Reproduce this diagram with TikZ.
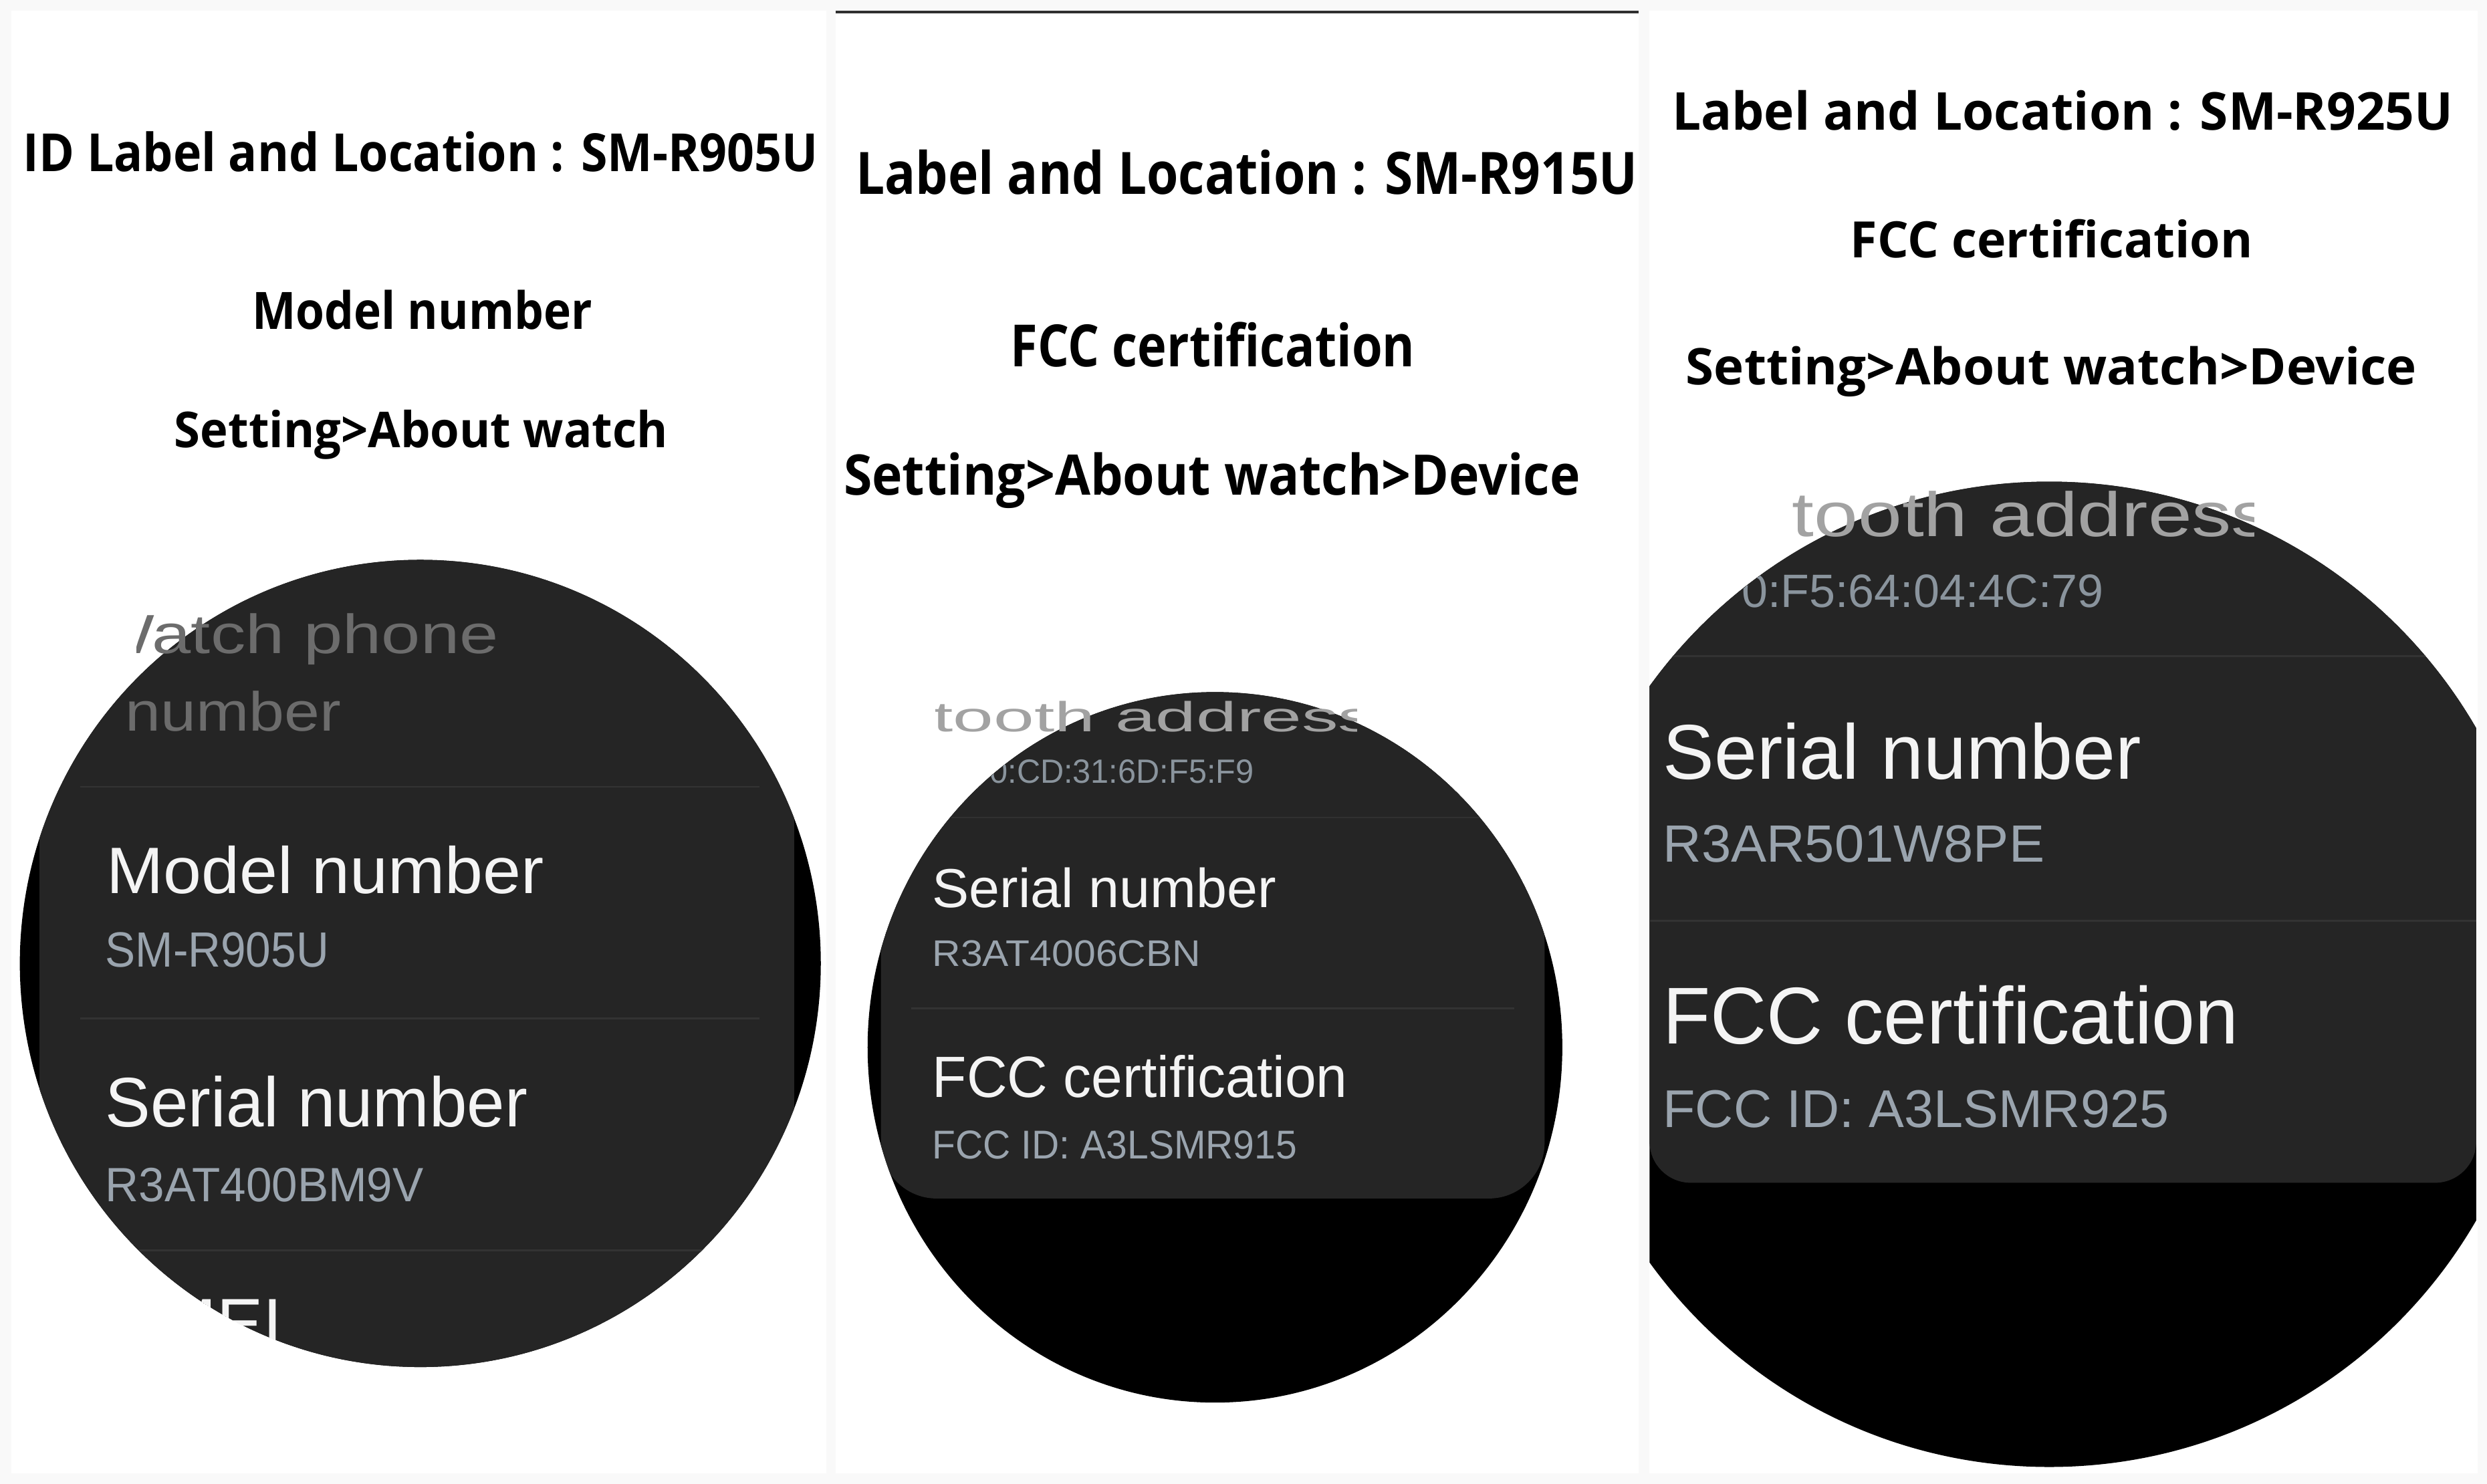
\documentclass[tikz,border=0pt]{standalone}
\usepackage{fontspec}
\usepackage{graphicx}
\newfontfamily\hdfont{Open Sans}
\newfontfamily\wfont{Liberation Sans}
\definecolor{pagebg}{HTML}{F9F9F9}
\definecolor{scrbg}{HTML}{252525}
\definecolor{sepc}{HTML}{333333}
\definecolor{wtitle}{HTML}{F4F4F4}
\definecolor{wsub}{HTML}{9AA4AE}
\definecolor{wsubdim}{HTML}{8A949D}
\definecolor{fadeA}{HTML}{6C6C6C}
\definecolor{fadeB}{HTML}{A2A2A2}
\definecolor{topline}{HTML}{303030}
\newcommand\fitbox[3]{\resizebox{#1pt}{#2pt}{#3}}
\tikzset{
  txt/.style={inner sep=0pt, outer sep=0pt, anchor=base west},
  hd/.style={txt, text=black, font=\hdfont\bfseries},
  wt/.style={txt, text=wtitle, font=\wfont},
  ws/.style={txt, text=wsub, font=\wfont},
  sepline/.style={draw=sepc, line width=1.2pt},
  panel/.style={fill=white},
}
\begin{document}
\begin{tikzpicture}[x=1pt,y=-1pt]
\useasboundingbox (0,0) rectangle (1568,935.7);
\fill[pagebg] (0,0) rectangle (1568,935.7);
% panels
\fill[panel] (7,6.6) rectangle (521,929);
\fill[panel] (527,6.6) rectangle (1033,929);
\fill[panel] (1040,6.6) rectangle (1562,929);
\draw[topline, line width=1.8pt] (527,7.6) -- (1033,7.6);

% ---------- headers ----------
\node[hd] (h11) at (14.7,108) {\fitbox{500.9}{25.2}{ID Label and Location : SM-R905U}};
\node[hd] (h12) at (159,207.5) {\fitbox{214.3}{24.7}{Model number}};
\node[hd] (h13) at (110,282) {\fitbox{311}{23.7}{Setting>About watch}};

\node[hd] (h21) at (539.7,122.3) {\fitbox{492.9}{28}{Label and Location : SM-R915U}};
\node[hd] (h22) at (637.1,231) {\fitbox{255}{28.1}{FCC certification}};
\node[hd] (h23) at (532,312.1) {\fitbox{464.3}{26.8}{Setting>About watch>Device}};

\node[hd] (h31) at (1054.2,82) {\fitbox{492.4}{25}{Label and Location : SM-R925U}};
\node[hd] (h32) at (1166.7,162.6) {\fitbox{253.7}{24.2}{FCC certification}};
\node[hd] (h33) at (1063,242.5) {\fitbox{460.6}{24.2}{Setting>About watch>Device}};

% ---------- panel 1 watch ----------
\begin{scope}
  \clip (265,607.5) ellipse [x radius=252.5pt, y radius=254.5pt];
  \fill[black] (0,340) rectangle (530,870);
  \fill[scrbg] (25,340) rectangle (500.7,870);
  \draw[sepline] (50.4,496.1) -- (478.8,496.1);
  \draw[sepline] (50.4,642.2) -- (478.8,642.2);
  \draw[sepline] (50.4,788.4) -- (478.8,788.4);
  \node[txt, text=fadeA, font=\wfont] (w1b) at (79,460.8) {\fitbox{136}{25.2}{number}};
  \node[wt] (w1c) at (67.2,563.3) {\fitbox{275.6}{30}{Model number}};
  \node[ws] (w1d) at (66.5,609.6) {\fitbox{140.8}{21.8}{SM-R905U}};
  \node[wt] (w1e) at (66.5,710.5) {\fitbox{266.2}{32}{Serial number}};
  \node[ws] (w1f) at (66.5,757.5) {\fitbox{200.6}{21.2}{R3AT400BM9V}};
  \node[wt] (w1g) at (88,850.3) {\fitbox{90}{31}{IMEI}};
\end{scope}
\begin{scope}
  \clip (86,370) rectangle (330,425);
  \node[txt, text=fadeA, font=\wfont] (w1a) at (56,412.1) {\fitbox{258.2}{25.2}{Watch phone}};
\end{scope}

% ---------- panel 2 watch ----------
\begin{scope}
  \clip (766,660.4) ellipse [x radius=219pt, y radius=224pt];
  \fill[black] (540,430) rectangle (990,890);
  \fill[scrbg, rounded corners=35pt] (555.4,300) rectangle (973.8,755.7);
  \draw[sepc!80!scrbg, line width=1.2pt] (600,515.5) -- (935,515.5);
  \draw[sepline] (574.6,635.9) -- (954.6,635.9);
  \node[txt, text=wsubdim, font=\wfont] (w2b) at (624,494) {\fitbox{166.5}{14.8}{0:CD:31:6D:F5:F9}};
  \node[wt] (w2c) at (587.9,572.3) {\fitbox{216.8}{25.1}{Serial number}};
  \node[ws] (w2d) at (587.9,609.3) {\fitbox{169.1}{16.3}{R3AT4006CBN}};
  \node[wt] (w2e) at (587.9,692.1) {\fitbox{261.7}{26.6}{FCC certification}};
  \node[ws] (w2f) at (587.9,730.5) {\fitbox{229.8}{17.7}{FCC ID: A3LSMR915}};
\end{scope}
\begin{scope}
  \clip (590,430) rectangle (855.5,475);
  \node[txt, text=fadeB, font=\wfont] (w2a) at (496.3,461.4) {\fitbox{370.4}{19.2}{Bluetooth address}};
\end{scope}

% ---------- panel 3 watch ----------
\begin{scope}
  \clip (1040,0) rectangle (1561.2,935);
  \clip (1292,614.35) circle [radius=310.65pt];
  \fill[black] (1030,290) rectangle (1570,930);
  \fill[scrbg, rounded corners=26pt] (1040,200) rectangle (1561.2,745.8);
  \draw[sepline] (1040,413.8) -- (1561.2,413.8);
  \draw[sepline] (1040,580.7) -- (1561.2,580.7);
  \node[txt, text=wsubdim, font=\wfont] (w3b) at (1098.1,382.8) {\fitbox{228.1}{20.6}{0:F5:64:04:4C:79}};
  \node[wt] (w3c) at (1048.5,491.2) {\fitbox{301.7}{35.5}{Serial number}};
  \node[ws] (w3d) at (1048.5,543.5) {\fitbox{240.5}{23.1}{R3AR501W8PE}};
  \node[wt] (w3e) at (1048.5,658.1) {\fitbox{363}{36.8}{FCC certification}};
  \node[ws] (w3f) at (1048.5,710.7) {\fitbox{318.9}{23.4}{FCC ID: A3LSMR925}};
\end{scope}
\begin{scope}
  \clip (1128,295) rectangle (1421,350);
  \node[txt, text=fadeB, font=\wfont] (w3a) at (1030.2,338.1) {\fitbox{401.7}{28.6}{Bluetooth address}};
\end{scope}
\end{tikzpicture}
\end{document}
